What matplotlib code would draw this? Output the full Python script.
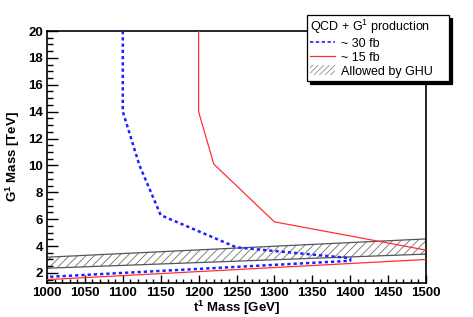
import matplotlib
matplotlib.use("Agg")
import matplotlib.pyplot as plt
from matplotlib.lines import Line2D
from matplotlib.patches import Patch
from matplotlib.ticker import MultipleLocator

# ---- data ----
blue_x = [1100, 1100, 1122, 1150, 1250, 1400, 1400, 1000]
blue_y = [20.0, 14.0, 10.0, 6.3, 3.9, 3.1, 2.9, 1.7]

red_up_x = [1200, 1200, 1220, 1300, 1500]
red_up_y = [20.0, 14.0, 10.1, 5.8, 3.7]
red_lo_x = [1000, 1500]
red_lo_y = [1.5, 3.0]

band_x = [1000, 1500]
band_lo = [2.35, 3.4]
band_hi = [3.17, 4.53]

xticks = [1000, 1050, 1100, 1150, 1200, 1250, 1300, 1350, 1400, 1450, 1500]
yticks = [2, 4, 6, 8, 10, 12, 14, 16, 18, 20]

plt.rcParams['font.family'] = ['Liberation Sans', 'DejaVu Sans']
plt.rcParams['mathtext.fontset'] = 'custom'
plt.rcParams['mathtext.rm'] = 'Liberation Sans'
plt.rcParams['mathtext.it'] = 'Liberation Sans:italic'
plt.rcParams['mathtext.bf'] = 'Liberation Sans:bold'
plt.rcParams['hatch.linewidth'] = 0.6
plt.rcParams['hatch.color'] = '#707070'

fig = plt.figure(figsize=(4.73, 3.17), dpi=100)
ax = fig.add_axes([47/473, 1-283/317, (426-47)/473, (283-31)/317])

# band
ax.fill_between(band_x, band_lo, band_hi, facecolor='white', edgecolor='#707070',
                hatch='////', linewidth=0, zorder=1)
ax.plot(band_x, band_lo, color='#555555', lw=0.9, zorder=2)
ax.plot(band_x, band_hi, color='#555555', lw=0.9, zorder=2)

ax.plot(blue_x, blue_y, color='#2020ff', lw=1.8, ls=(0, (1.3, 1.2)), zorder=3)
ax.plot(red_up_x, red_up_y, color='#ff3030', lw=0.9, zorder=3)
ax.plot(red_lo_x, red_lo_y, color='#ff3030', lw=0.9, zorder=3)

ax.set_xlim(1000, 1500)
ax.set_ylim(1.25, 20)
ax.set_xticks(xticks)
ax.set_yticks(yticks)
ax.xaxis.set_minor_locator(MultipleLocator(10))
ax.yaxis.set_minor_locator(MultipleLocator(0.5))
ax.tick_params(axis='both', which='both', direction='in', top=False, right=False,
               width=1.0)
ax.tick_params(axis='x', which='major', length=6, pad=3)
ax.tick_params(axis='x', which='minor', length=3)
ax.tick_params(axis='y', which='major', length=8, pad=3)
ax.tick_params(axis='y', which='minor', length=4)
for lab in ax.get_xticklabels() + ax.get_yticklabels():
    lab.set_fontsize(9.5)
    lab.set_fontweight('bold')
for s in ax.spines.values():
    s.set_linewidth(1.2)

ax.set_xlabel('t$^{\\mathbf{1}}$ Mass [GeV]', fontsize=9.5, fontweight='bold',
              va='center')
ax.xaxis.set_label_coords(0.5, -25/252)
ax.set_ylabel('G$^{\\mathbf{1}}$ Mass [TeV]', fontsize=9.5, fontweight='bold',
              va='center')
ax.yaxis.set_label_coords(-34/379, 0.5)

handles = [Line2D([], [], color='#2020ff', lw=1.2, ls=(0, (2, 1.5))),
           Line2D([], [], color='#ff3030', lw=0.9),
           Patch(facecolor='white', edgecolor='#909090', hatch='//////', lw=0)]
labels = ['~ 30 fb', '~ 15 fb', 'Allowed by GHU']
leg = fig.legend(handles, labels, title='QCD + G$^{1}$ production',
                 loc='upper left',
                 bbox_to_anchor=(307/473, 1-79/317, 142/473, 64/317),
                 bbox_transform=fig.transFigure, mode='expand', borderaxespad=0,
                 fontsize=9, title_fontsize=9, alignment='left',
                 fancybox=False, framealpha=1, edgecolor='black',
                 shadow={'color': 'black', 'alpha': 1, 'ox': 2.2, 'oy': -2.2},
                 handlelength=2.0, handletextpad=0.5, labelspacing=0.1,
                 borderpad=0.25, handleheight=0.9)
leg.get_frame().set_linewidth(0.9)
leg.set_zorder(10)

fig.savefig('out.png', dpi=100)
